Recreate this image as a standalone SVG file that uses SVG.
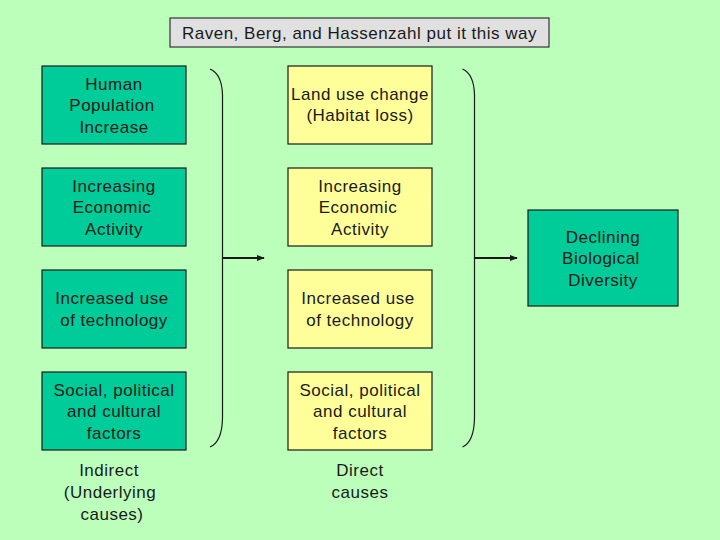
<svg xmlns="http://www.w3.org/2000/svg" width="720" height="540" viewBox="0 0 720 540">
<defs>
<style>
text{font-family:"Liberation Sans","DejaVu Sans",sans-serif;font-size:17px;letter-spacing:0.5px;fill:#1a1a1a;text-anchor:middle}
.teal{fill:#00cc99;stroke:#1a1a1a;stroke-width:1.2}
.yel{fill:#ffff99;stroke:#1a1a1a;stroke-width:1.2}
.brace{fill:none;stroke:#1a1a1a;stroke-width:1.2}
.arr{stroke:#1a1a1a;stroke-width:2;marker-end:url(#ah)}
</style>
<marker id="ah" viewBox="0 0 10 10" refX="9" refY="5" markerWidth="4" markerHeight="4" orient="auto">
<path d="M0,1 L10,5 L0,9 z" fill="#1a1a1a"/>
</marker>
</defs>
<rect width="720" height="540" fill="#bbffbb"/>
<g id="title">
<rect x="170" y="18" width="379" height="29" fill="#e0e0e0" stroke="#333" stroke-width="1.2"/>
<text x="359.5" y="39">Raven, Berg, and Hassenzahl put it this way</text>
</g>
<g id="i1"><rect class="teal" x="42" y="66" width="144" height="78"/>
<text x="114" y="90">Human</text><text x="112" y="111">Population</text><text x="114" y="133">Increase</text></g>
<g id="i2"><rect class="teal" x="42" y="168" width="144" height="78"/>
<text x="114" y="192">Increasing</text><text x="112" y="213">Economic</text><text x="114" y="235">Activity</text></g>
<g id="i3"><rect class="teal" x="42" y="270" width="144" height="78"/>
<text x="112" y="304">Increased use</text><text x="114" y="326">of technology</text></g>
<g id="i4"><rect class="teal" x="42" y="372" width="144" height="78"/>
<text x="114" y="396">Social, political</text><text x="114" y="417">and cultural</text><text x="114" y="439">factors</text></g>
<g id="d1"><rect class="yel" x="288" y="66" width="144" height="78"/>
<text x="360" y="100">Land use change</text><text x="360" y="121">(Habitat loss)</text></g>
<g id="d2"><rect class="yel" x="288" y="168" width="144" height="78"/>
<text x="360" y="192">Increasing</text><text x="358" y="213">Economic</text><text x="360" y="235">Activity</text></g>
<g id="d3"><rect class="yel" x="288" y="270" width="144" height="78"/>
<text x="358" y="304">Increased use</text><text x="360" y="326">of technology</text></g>
<g id="d4"><rect class="yel" x="288" y="372" width="144" height="78"/>
<text x="360" y="396">Social, political</text><text x="360" y="417">and cultural</text><text x="360" y="439">factors</text></g>
<g id="result"><rect class="teal" x="528" y="210" width="150" height="96"/>
<text x="603" y="243">Declining</text><text x="601" y="264">Biological</text><text x="603" y="286">Diversity</text></g>
<g id="labels">
<text x="109" y="476">Indirect</text><text x="110" y="498">(Underlying</text><text x="112" y="520">causes)</text>
<text x="360" y="476">Direct</text><text x="360" y="498">causes</text>
</g>
<g id="connectors">
<path class="brace" d="M210,69 Q222,74 222.5,95 L222.5,418 Q222,442 210,447"/>
<path class="brace" d="M462.5,69 Q474,74 474.5,95 L474.5,418 Q474,442 462.5,447"/>
<line class="arr" x1="223" y1="258" x2="264" y2="258"/>
<line class="arr" x1="475" y1="258" x2="517" y2="258"/>
</g>
</svg>
